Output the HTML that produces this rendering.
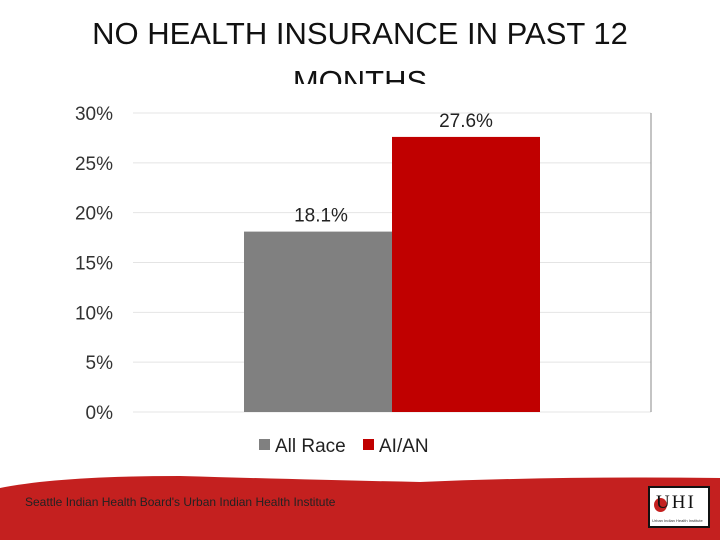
<!DOCTYPE html>
<html><head><meta charset="utf-8"><style>
body{margin:0;width:720px;height:540px;overflow:hidden;background:#fff;font-family:"Liberation Sans",sans-serif;position:relative}
#title{position:absolute;left:0;top:10px;width:720px;text-align:center;font-size:31px;line-height:48px;color:#111}
#chart{position:absolute;left:30px;top:84px;width:648px;height:396px;background:#fff}
#footer{position:absolute;left:0;top:470px}
#foottext{position:absolute;left:25px;top:495px;font-size:12px;color:#222}
#logo{position:absolute;left:648px;top:486px;width:58px;height:38px;background:#fff;border:2px solid #111}
</style></head><body>
<div id="title">NO HEALTH INSURANCE IN PAST 12<br>MONTHS</div>
<svg id="chart" width="648" height="396" viewBox="0 0 648 396"></svg>
<svg id="footer" width="720" height="70"><path d="M0,18 Q60,6 180,6 Q320,10 420,12 Q560,6 720,8 L720,70 L0,70 Z" fill="#c4201f"/></svg>
<div id="foottext">Seattle Indian Health Board's Urban Indian Health Institute</div>
<div id="logo"><div style="position:absolute;left:4px;top:10px;width:13px;height:14px;border-radius:50%;background:#c4201f"></div><div style="position:absolute;left:6px;top:4px;font-family:'Liberation Serif',serif;font-size:19px;color:#111;letter-spacing:2px">UHI</div><div style="position:absolute;left:2px;top:30px;font-size:4px;color:#333">Urban Indian Health Institute</div></div>
<script>
const categories=["All Race","AI/AN"];
const values=[18.1,27.6];
const colors=["#808080","#c00000"];
const ticks=[0,5,10,15,20,25,30];
const tickLabels=["0%","5%","10%","15%","20%","25%","30%"];
const svg=document.getElementById('chart');
const NS="http://www.w3.org/2000/svg";
const x0=103,x1=621,y0=328,yTop=29,max=30;
const y=v=>y0-(v/max)*(y0-yTop);
function mk(t,a){const e=document.createElementNS(NS,t);for(const k in a)e.setAttribute(k,a[k]);svg.appendChild(e);return e;}
ticks.forEach((t,i)=>{
 const g=mk('line',{x1:x0,x2:x1,y1:y(t),y2:y(t),stroke:'#e4e4e4','stroke-width':1});
 
 
 const l=mk('text',{x:x0-20,y:y(t)+7,'text-anchor':'end','font-size':19,fill:'#333','font-family':'Liberation Sans, sans-serif'});
 l.textContent=tickLabels[i];
 
 
});
const ax=mk('line',{x1:x1,x2:x1,y1:yTop,y2:y0,stroke:'#888'});


const bw=148,start=214;
values.forEach((v,i)=>{
 const bx=start+i*bw;
 const r=mk('rect',{x:bx,y:y(v),width:bw,height:y0-y(v),fill:colors[i]});
 
 
 const t=mk('text',{x:bx+bw/2+(i==0?3:0),y:y(v)-10,'text-anchor':'middle','font-size':19,fill:'#222','font-family':'Liberation Sans, sans-serif'});
 t.textContent=v.toFixed(1)+'%';
 
 
});
const lx=[229,333];
categories.forEach((c,i)=>{
 const s=mk('rect',{x:lx[i],y:355,width:11,height:11,fill:colors[i]});
 
 
 const t=mk('text',{x:lx[i]+16,y:368,'font-size':19,fill:'#222','font-family':'Liberation Sans, sans-serif'});
 t.textContent=c;
 
 
});
</script>
</body></html>
